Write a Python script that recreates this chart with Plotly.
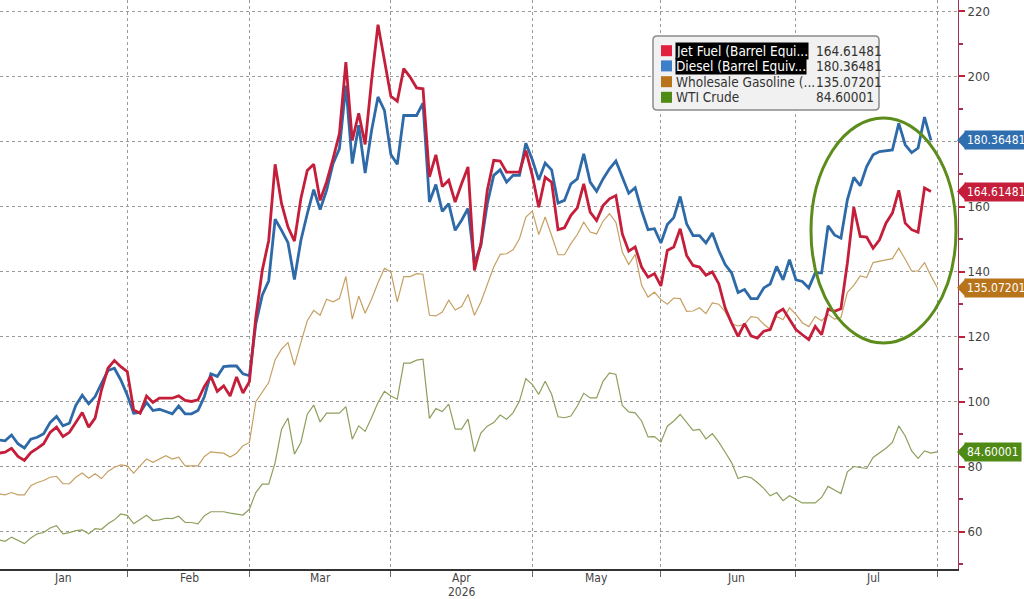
#!/usr/bin/env python3
"""
Jet fuel, diesel, wholesale gasoline and WTI crude, daily, Jan-Aug 2026.
Bloomberg-style line chart with right-hand axis and last-value tags.
"""

import pandas as pd
import plotly.graph_objects as go

# Trading calendar (weekends and these holidays are skipped on the axis)
HOLIDAYS = ["2026-01-01", "2026-01-19", "2026-02-16",
            "2026-05-25", "2026-06-19", "2026-07-03"]
START_DATE = "2026-01-02"
END_JET_DIESEL = "2026-07-31"
END_GAS_WTI = "2026-08-03"

MONTH_LABELS = ["Jan", "Feb", "Mar", "Apr", "May", "Jun", "Jul"]
YEAR_LABEL = "2026"

SERIES_NAMES = ["Jet Fuel (Barrel Equi...", "Diesel (Barrel Equiv...",
                "Wholesale Gasoline (...", "WTI Crude"]
LAST_VALUES = [164.61481, 180.36481, 135.07201, 84.60001]

jet_fuel = [
    84.2, 84.5, 85.7, 83.2, 82.0, 84.4, 85.7, 87.1, 90.6, 92.2,
    89.3, 90.6, 93.6, 96.7, 92.2, 95.0, 103.7, 110.3, 112.7, 110.8,
    109.3, 97.5, 96.5, 101.8, 99.8, 101.1, 101.1, 101.1, 101.8, 100.4,
    100.1, 100.6, 104.7, 107.8, 103.2, 104.9, 101.8, 107.6, 102.7, 106.2,
    126.0, 140.4, 149.6, 173.0, 160.9, 153.7, 149.4, 162.4, 171.1, 173.0,
    161.9, 167.6, 174.7, 182.4, 204.4, 180.3, 188.7, 179.1, 198.8, 215.9,
    205.0, 193.9, 192.4, 202.4, 199.8, 196.5, 196.2, 169.1, 175.9, 166.2,
    168.1, 161.4, 167.0, 172.2, 140.4, 148.6,
    165.0, 174.2, 174.0, 170.6, 170.6, 170.6, 177.2, 169.6, 159.8, 169.0,
    167.5, 152.9, 153.5, 157.3, 159.6, 167.0, 158.3, 155.7, 160.3, 162.4,
    163.4, 151.6, 146.3, 147.6, 141.4, 138.3, 139.4, 135.6, 146.5, 147.6,
    153.2, 145.0, 141.9, 141.4, 138.9, 139.9, 136.3, 128.8, 124.2,
    120.1, 124.0, 120.3, 119.6, 121.7, 122.2, 127.3, 128.5, 125.2, 122.2,
    120.6, 119.1, 123.2, 120.6, 128.5, 127.8, 128.6, 142.6, 159.8, 150.8,
    150.6, 147.2, 149.8, 154.9, 158.0, 165.0, 154.9, 152.9, 152.1, 165.7,
    164.61481,
]

diesel = [
    88.3, 88.0, 89.8, 87.1, 85.8, 88.5, 89.1, 90.2, 93.6, 95.5,
    92.6, 93.4, 98.9, 102.0, 99.4, 101.6, 105.7, 109.6, 110.3, 106.7,
    102.1, 96.5, 96.7, 99.8, 97.3, 97.7, 97.0, 96.3, 98.7, 96.3,
    96.3, 97.3, 101.6, 108.6, 107.8, 110.8, 111.0, 111.0, 108.6, 108.0,
    124.0, 132.8, 137.2, 156.1, 152.7, 148.9, 137.6, 149.6, 157.8, 165.2,
    159.1, 165.0, 173.2, 177.8, 197.2, 173.2, 185.0, 170.3, 183.4, 193.7,
    189.6, 176.0, 173.0, 188.0, 188.0, 188.0, 191.8, 161.4, 166.8, 158.5,
    160.9, 152.7, 155.8, 159.4, 142.5, 148.1,
    160.9, 169.6, 171.3, 167.5, 169.6, 169.6, 179.5, 174.4, 168.2, 173.4,
    171.3, 161.1, 161.9, 167.0, 168.5, 176.2, 167.5, 164.7, 168.5, 171.6,
    174.0, 169.0, 164.1, 165.8, 158.8, 152.9, 153.2, 148.8, 154.5, 156.6,
    163.1, 154.7, 151.1, 151.1, 148.8, 151.9, 146.5, 142.2,
    139.6, 133.6, 134.5, 131.7, 131.7, 135.0, 136.2, 141.6, 137.5, 143.7,
    137.5, 137.0, 135.0, 139.6, 139.6, 154.1, 151.3, 150.3, 162.1, 169.0,
    166.4, 172.3, 175.9, 176.9, 177.2, 177.4, 185.6, 179.0, 176.6, 178.0,
    187.5, 180.36481,
]

gasoline = [
    71.7, 71.4, 72.1, 71.4, 71.4, 74.2, 75.2, 75.8, 76.8, 77.1,
    74.8, 74.8, 76.8, 78.1, 76.5, 77.9, 76.4, 78.6, 79.9, 80.6,
    80.3, 78.1, 80.3, 82.4, 81.4, 82.4, 83.4, 82.4, 83.0, 80.3,
    80.3, 80.3, 83.2, 84.6, 84.4, 84.2, 83.0, 84.2, 86.5, 87.5,
    100.0, 102.8, 105.9, 112.9, 116.2, 118.2, 111.2, 118.2, 124.9, 128.1,
    126.6, 131.5, 130.7, 131.7, 138.5, 125.4, 132.5, 127.2, 131.5, 136.6,
    141.0, 139.9, 130.7, 138.5, 138.5, 139.4, 139.2, 126.6, 126.4, 127.6,
    131.2, 128.2, 129.3, 133.0, 126.6, 130.7,
    136.3, 141.4, 145.3, 145.5, 146.7, 150.1, 156.8, 158.6, 151.4, 156.8,
    151.1, 145.2, 145.2, 148.6, 151.4, 155.2, 152.2, 151.6, 155.5, 157.8,
    155.2, 146.0, 142.2, 145.3, 135.8, 132.2, 133.7, 131.4, 130.0, 131.9,
    131.7, 127.8, 127.9, 128.9, 127.1, 130.4, 130.0, 127.6, 124.0,
    123.3, 123.8, 126.2, 125.9, 123.8, 122.3, 126.2, 125.2, 128.9, 126.9,
    124.3, 123.1, 126.2, 124.9, 126.9, 125.4, 125.9, 133.6, 135.8, 138.7,
    138.2, 142.8, 143.1, 143.6, 144.0, 147.2, 143.8, 140.2, 140.2, 142.8,
    138.7, 135.07201,
]

wti_crude = [
    57.6, 57.1, 58.4, 57.4, 56.4, 58.1, 59.4, 59.8, 61.2, 61.9,
    59.4, 59.8, 60.4, 60.6, 59.4, 61.0, 60.8, 62.5, 63.7, 65.5,
    65.1, 62.5, 63.7, 65.1, 63.5, 63.7, 64.2, 64.1, 64.8, 62.9,
    62.9, 62.5, 65.0, 66.2, 66.2, 66.2, 65.8, 65.6, 65.2, 67.0,
    72.1, 74.7, 74.7, 81.3, 91.6, 95.0, 83.9, 87.5, 96.2, 99.0,
    93.8, 96.5, 96.5, 96.5, 98.5, 88.5, 92.6, 90.9, 95.2, 99.8,
    103.2, 101.8, 100.8, 111.9, 111.9, 112.8, 113.1, 94.9, 97.9, 97.0,
    99.3, 91.6, 91.6, 94.7, 84.6, 90.4,
    92.5, 93.6, 95.9, 94.6, 96.6, 100.2, 107.1, 105.3, 102.3, 106.3,
    102.3, 95.4, 95.1, 95.6, 98.7, 102.6, 101.2, 101.2, 106.3, 108.9,
    108.4, 98.9, 96.9, 96.6, 94.1, 89.2, 89.3, 87.6, 92.5, 94.1,
    96.1, 93.6, 91.2, 91.5, 88.6, 90.2, 87.6, 84.5, 81.3,
    76.4, 77.1, 76.7, 75.2, 73.4, 71.1, 72.1, 69.6, 71.1, 70.1,
    68.9, 68.9, 68.9, 70.6, 74.0, 72.9, 71.8, 78.5, 80.1, 79.8,
    79.5, 82.9, 84.2, 85.7, 87.5, 92.6, 89.5, 84.9, 82.6, 84.9,
    84.2, 84.60001,
]

# Styling
FONT = "DejaVu Sans Condensed, DejaVu Sans, sans-serif"
LINE_COLORS = ["#c41e3a", "#2e6aa8", "#c6a063", "#8d9f5c"]
TAG_COLORS = ["#c41e3a", "#2f6fb0", "#b8741a", "#4e8a14"]
SWATCH_COLORS = ["#e0203c", "#3d7fc8", "#b8741a", "#4e8a14"]
Y_MIN, Y_MAX = 48.6, 223.5
PLOT_W, PLOT_H = 958, 569  # plot area in pixels
# where each month name sits (middle of the month's trading days)
MONTH_LABEL_POS = ["2026-01-16", "2026-02-13 18:00", "2026-03-17",
                   "2026-04-16", "2026-05-15", "2026-06-16 18:00",
                   "2026-07-20"]


def px_x(x):
    """Pixel column inside the plot area -> paper x."""
    return x / PLOT_W


def px_y(y):
    """Pixel row inside the plot area -> paper y."""
    return 1 - y / PLOT_H


def trading_days(end):
    return pd.bdate_range(START_DATE, end, freq="C", holidays=HOLIDAYS)


def rounded_box(x0, y0, x1, y1, r=4):
    """SVG path of a rounded rectangle, pixel coords converted to paper."""
    pts = [
        ("M", x0 + r, y0), ("L", x1 - r, y0), ("Q", x1, y0, x1, y0 + r),
        ("L", x1, y1 - r), ("Q", x1, y1, x1 - r, y1), ("L", x0 + r, y1),
        ("Q", x0, y1, x0, y1 - r), ("L", x0, y0 + r), ("Q", x0, y0, x0 + r, y0),
    ]
    out = []
    for p in pts:
        cmd, coords = p[0], p[1:]
        xy = []
        for i in range(0, len(coords), 2):
            xy.append(f"{px_x(coords[i]):.5f},{px_y(coords[i + 1]):.5f}")
        out.append(cmd + " " + " ".join(xy))
    return " ".join(out) + " Z"


def create_figure():
    fig = go.Figure()

    dates_short = trading_days(END_JET_DIESEL)
    dates_long = trading_days(END_GAS_WTI)

    traces = [
        (dates_long, wti_crude, 3, 1.2),
        (dates_long, gasoline, 2, 1.2),
        (dates_short, diesel, 1, 2.8),
        (dates_short, jet_fuel, 0, 2.8),
    ]
    for dates, values, idx, width in traces:
        fig.add_trace(go.Scatter(
            x=dates, y=values, mode="lines", name=SERIES_NAMES[idx],
            line=dict(color=LINE_COLORS[idx], width=width),
            showlegend=False, hoverinfo="x+y",
        ))

    fig.update_layout(
        width=1024, height=599,
        margin=dict(l=0, r=66, t=0, b=30),
        plot_bgcolor="white", paper_bgcolor="white",
        font=dict(family=FONT, size=12, color="#444"),
        xaxis=dict(
            type="date",
            range=["2026-01-02 05:00", "2026-08-06 05:00"],
            rangebreaks=[dict(bounds=["sat", "mon"]), dict(values=HOLIDAYS)],
            tick0="2026-01-01", dtick="M1",
            showticklabels=False,
            showgrid=True, gridcolor="#9a9a9a", griddash="dot", gridwidth=1,
            showline=True, linecolor="#333", linewidth=1.5,
            ticks="outside", ticklen=6, tickcolor="#666",
            zeroline=False,
        ),
        yaxis=dict(
            side="right", range=[Y_MIN, Y_MAX],
            tick0=0, dtick=20,
            showgrid=True, gridcolor="#9a9a9a", griddash="dot", gridwidth=1,
            showline=True, linecolor="#a3324f", linewidth=1,
            ticks="outside", ticklen=6, tickwidth=2, tickcolor="#c0203a",
            minor=dict(dtick=10, ticks="outside", ticklen=4,
                       tickcolor="#a3324f", showgrid=False),
            tickfont=dict(size=13, color="#444"),
            zeroline=False,
        ),
        showlegend=False,
    )

    shapes = []
    annotations = []

    # month names under the axis, and the year below April
    for label, pos in zip(MONTH_LABELS, MONTH_LABEL_POS):
        annotations.append(dict(
            xref="x", yref="paper", x=pos, y=px_y(578),
            xanchor="center", yanchor="middle", showarrow=False,
            text=label, font=dict(size=12, color="#444"),
        ))
    annotations.append(dict(
        xref="x", yref="paper", x=MONTH_LABEL_POS[3], y=px_y(592),
        xanchor="center", yanchor="middle", showarrow=False,
        text=YEAR_LABEL, font=dict(size=12, color="#444"),
    ))

    # green ellipse highlighting the latest rally
    shapes.append(dict(
        type="circle", xref="paper", yref="paper",
        x0=px_x(811), x1=px_x(956), y0=px_y(343), y1=px_y(118),
        line=dict(color="#5b8c1c", width=3),
    ))

    # last value tags on the right axis
    for i, v in enumerate(LAST_VALUES):
        yp = (v - Y_MIN) / (Y_MAX - Y_MIN)
        h = 9.5 / PLOT_H
        shapes.append(dict(
            type="path", xref="paper", yref="paper",
            path=(f"M {px_x(957):.5f},{yp:.5f} L {px_x(966):.5f},{yp + h:.5f} "
                  f"L {px_x(966):.5f},{yp - h:.5f} Z"),
            fillcolor=TAG_COLORS[i], line=dict(width=0), layer="above",
        ))
        annotations.append(dict(
            xref="paper", yref="y", x=px_x(964), y=v,
            xanchor="left", yanchor="middle", showarrow=False,
            text=f"{v:.5f}", bgcolor=TAG_COLORS[i], borderpad=2,
            font=dict(size=12, color="white"),
        ))

    # legend box
    shapes.append(dict(
        type="path", xref="paper", yref="paper",
        path=rounded_box(653, 36, 879, 110),
        fillcolor="#f1f1f1", line=dict(color="#8a8a8a", width=1.5),
        layer="above",
    ))
    rows = [50.7, 65.9, 81.7, 97.3]
    for i, (name, v) in enumerate(zip(SERIES_NAMES, LAST_VALUES)):
        cy = rows[i]
        shapes.append(dict(
            type="rect", xref="paper", yref="paper",
            x0=px_x(661), x1=px_x(672), y0=px_y(cy + 5.5), y1=px_y(cy - 5.5),
            fillcolor=SWATCH_COLORS[i], line=dict(width=0), layer="above",
        ))
        highlighted = i < 2
        annotations.append(dict(
            xref="paper", yref="paper", x=px_x(675), y=px_y(cy),
            xanchor="left", yanchor="middle", showarrow=False,
            text=name, borderpad=0,
            bgcolor="black" if highlighted else "rgba(0,0,0,0)",
            font=dict(size=13.5, color="white" if highlighted else "#333"),
        ))
        annotations.append(dict(
            xref="paper", yref="paper", x=px_x(814), y=px_y(cy),
            xanchor="left", yanchor="middle", showarrow=False,
            text=f"{v:.5f}", font=dict(size=13.5, color="#333"),
        ))

    fig.update_layout(shapes=shapes, annotations=annotations)
    return fig


def main():
    fig = create_figure()
    # drop the browser's default 8px body margin so the chart sits at 0,0
    fig.write_html("out.html",
                   config={"displayModeBar": False},
                   post_script="document.body.style.margin = '0px';")


if __name__ == "__main__":
    main()
